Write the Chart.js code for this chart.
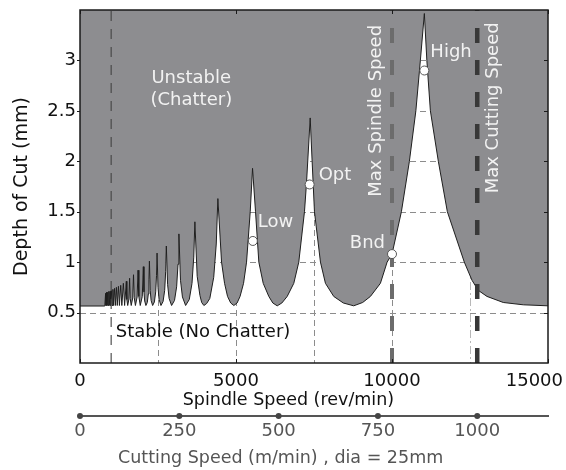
<!DOCTYPE html>
<html><head><meta charset="utf-8">
<script src="https://cdn.jsdelivr.net/npm/chart.js@4.4.1/dist/chart.umd.min.js"></script>
<style>html,body{margin:0;padding:0;background:#fff;}canvas{display:block;}</style>
</head><body>
<canvas id="c" width="566" height="470"></canvas>
<script>
// ---- data ----
const lobeRpm = [0,795,820,833,851,865,885,900,922,939,962,980,1006,1027,1055,1077,1108,1133,1167,1194,1232,1263,1305,1341,1390,1430,
  1485,1501,1529,1569,1590,1609,1642,1690,1715,1737,1776,1831,1860,1886,1931,1996,
  2030,2050,2073,2112,2157,2190,2211,2225,2250,2279,2328,2384,2426,2453,
  2470,2500,2535,2595,2663,2714,2746,2767,2807,2856,2936,3029,3097,3142,
  3170,3221,3283,3385,3503,3590,3646,3682,3756,3844,3900,3970,4060,4161,4286,4367,
  4419,4537,4633,4729,4830,4931,5035,5130,5242,5338,5456,
  5530,5626,5732,5872,6052,6180,6321,6470,6641,6852,7012,7195,7259,
  7378,7440,7515,7707,7867,8133,8440,8773,9060,9308,9628,9843,10000,10301,10557,10765,10909,
  11037,11117,11230,11485,11774,12318,12565,12766,13045,13567,14207,15000];
const lobeDepth = [0.565,0.565,0.69,0.57,0.70,0.57,0.70,0.57,0.71,0.57,0.71,0.57,0.72,0.57,0.73,0.57,0.74,0.57,0.75,0.57,0.76,0.57,0.77,0.57,0.79,0.57,
  0.81,0.63,0.57,0.635,0.84,0.64,0.57,0.645,0.875,0.65,0.57,0.655,0.92,0.66,0.57,0.66,
  0.955,0.705,0.615,0.57,0.60,0.685,0.825,1.01,0.72,0.62,0.57,0.605,0.705,0.87,
  1.09,0.75,0.63,0.57,0.61,0.72,0.91,1.16,0.78,0.64,0.57,0.62,0.755,0.98,
  1.28,0.82,0.655,0.57,0.63,0.79,1.05,1.40,0.86,0.67,0.60,0.57,0.59,0.64,0.85,1.18,
  1.63,1.00,0.79,0.66,0.595,0.57,0.595,0.66,0.79,1.00,1.50,
  1.93,1.50,1.00,0.79,0.66,0.595,0.567,0.595,0.66,0.79,1.00,1.50,1.78,
  2.43,2.00,1.50,1.00,0.79,0.66,0.595,0.567,0.60,0.66,0.79,1.00,1.08,1.50,2.00,2.50,3.00,
  3.465,3.00,2.50,2.00,1.50,1.00,0.82,0.72,0.66,0.60,0.577,0.567];
const markerNames = ['Low', 'Opt', 'Bnd', 'High'];
const markerRpm = [5540, 7360, 10000, 11037];
const markerDepth = [1.21, 1.77, 1.08, 2.90];
const minSpindleRpm = 1000;
const maxSpindleRpm = 10000;
const maxCuttingRpm = 12732;      // 1000 m/min at dia 25 mm
const spindleTicks = [0, 5000, 10000, 15000];
const depthTicks = [0.5, 1, 1.5, 2, 2.5, 3];
const gridRpm = [2500, 5000, 7500, 10000];
const dashDotRpm = [12500];
const cuttingTicks = [0, 250, 500, 750, 1000];
const cuttingMax = 1178.1;        // cutting speed at 15000 rev/min
const depthMax = 3.5;

const FONT = '"DejaVu Sans"';
Chart.defaults.font.family = FONT;
Chart.defaults.font.size = 18;
Chart.defaults.color = '#111';

function seg(ctx, x1, y1, x2, y2) { ctx.beginPath(); ctx.moveTo(x1, y1); ctx.lineTo(x2, y2); ctx.stroke(); }

const decor = {
  id: 'decor',
  beforeDatasetsDraw(chart) {
    const { ctx, chartArea: a } = chart;
    const x = chart.scales.x, y = chart.scales.y;
    ctx.save();
    ctx.lineWidth = 1;
    ctx.strokeStyle = '#8c8c8c';
    ctx.setLineDash([6, 4]);
    depthTicks.forEach(v => { const py = Math.round(y.getPixelForValue(v)) + 0.5; seg(ctx, a.left, py, a.right, py); });
    gridRpm.forEach(v => { const px = Math.round(x.getPixelForValue(v)) + 0.5; seg(ctx, px, a.top, px, a.bottom); });
    ctx.strokeStyle = '#b8b8b8';
    ctx.setLineDash([8, 3, 2, 3]);
    dashDotRpm.forEach(v => { const px = Math.round(x.getPixelForValue(v)) + 0.5; seg(ctx, px, a.top, px, a.bottom); });
    ctx.restore();
  },
  afterDatasetsDraw(chart) {
    const { ctx, chartArea: a } = chart;
    const x = chart.scales.x, y = chart.scales.y;
    ctx.save();
    ctx.font = '18px ' + FONT;
    ctx.textBaseline = 'middle';
    ctx.textAlign = 'left';
    ctx.fillStyle = '#f2f2f2';
    ctx.fillText('Unstable', x.getPixelForValue(2290), y.getPixelForValue(2.82));
    ctx.fillText('(Chatter)', x.getPixelForValue(2260), y.getPixelForValue(2.60));
    ctx.fillStyle = '#111';
    ctx.fillText('Stable (No Chatter)', x.getPixelForValue(1146), y.getPixelForValue(0.30));
    // rotated labels of the limit lines
    ctx.fillStyle = '#f2f2f2';
    [['Max Spindle Speed', maxSpindleRpm, -16, 2.5], ['Max Cutting Speed', maxCuttingRpm, 16, 2.53]].forEach(([t, v, dx, d]) => {
      ctx.save();
      ctx.translate(x.getPixelForValue(v) + dx, y.getPixelForValue(d));
      ctx.rotate(-Math.PI / 2);
      ctx.textAlign = 'center';
      ctx.fillText(t, 0, 0);
      ctx.restore();
    });
    // marker labels
    const offs = { Low: [5, -19, 'left'], Opt: [9, -9, 'left'], Bnd: [-7, -11, 'right'], High: [6, -18, 'left'] };
    markerNames.forEach((n, i) => {
      const o = offs[n];
      ctx.textAlign = o[2];
      ctx.fillText(n, x.getPixelForValue(markerRpm[i]) + o[0], y.getPixelForValue(markerDepth[i]) + o[1]);
    });
    // frame and ticks
    ctx.setLineDash([]);
    ctx.strokeStyle = '#1a1a1a';
    ctx.lineWidth = 1.5;
    ctx.strokeRect(a.left, a.top, a.width, a.height);
    ctx.lineWidth = 1;
    depthTicks.forEach(v => {
      const py = Math.round(y.getPixelForValue(v)) + 0.5;
      seg(ctx, a.left - 3, py, a.left, py);
      seg(ctx, a.right - 4, py, a.right, py);
    });
    spindleTicks.forEach(v => {
      const px = Math.round(x.getPixelForValue(v)) + 0.5;
      seg(ctx, px, a.top, px, a.top + 4);
      seg(ctx, px, a.bottom - 4, px, a.bottom);
    });
    ctx.restore();
  },
  afterDraw(chart) {
    const { ctx, chartArea: a } = chart;
    const x = chart.scales.x, x2 = chart.scales.x2;
    ctx.save();
    ctx.font = '18px ' + FONT;
    ctx.textBaseline = 'middle';
    ctx.textAlign = 'center';
    ctx.fillStyle = '#111';
    spindleTicks.forEach(v => {
      const t = String(v);
      const w = ctx.measureText(t).width;
      const cx = Math.min(x.getPixelForValue(v), chart.width - 3 - w / 2);
      ctx.fillText(t, cx, a.bottom + 18);
    });
    ctx.font = '17.5px ' + FONT;
    ctx.fillText('Spindle Speed (rev/min)', x.getPixelForValue(6680), a.bottom + 37);
    ctx.fillStyle = '#555';
    ctx.fillText('Cutting Speed (m/min) , dia = 25mm', x.getPixelForValue(6430), x2.top + 42);
    ctx.fillStyle = '#444';
    cuttingTicks.forEach(v => {
      ctx.beginPath();
      ctx.arc(x2.getPixelForValue(v), x2.top, 3, 0, Math.PI * 2);
      ctx.fill();
    });
    ctx.restore();
  }
};

const lobePts = lobeRpm.map((r, i) => ({ x: r, y: lobeDepth[i] }));
const vline = v => [{ x: v, y: 0 }, { x: v, y: depthMax }];

new Chart(document.getElementById('c'), {
  type: 'line',
  data: {
    datasets: [
      { data: lobePts, borderColor: '#1e1e1e', borderWidth: 1, backgroundColor: '#8d8d90', fill: 'end', pointRadius: 0, tension: 0, order: 5, xAxisID: 'x', yAxisID: 'y' },
      { data: vline(minSpindleRpm), borderColor: 'rgba(70,70,70,0.75)', borderWidth: 1.5, borderDash: [10, 8], pointRadius: 0, fill: false, order: 3, xAxisID: 'x', yAxisID: 'y' },
      { data: vline(maxSpindleRpm), borderColor: '#6c6c6c', borderWidth: 4, borderDash: [15, 17], pointRadius: 0, fill: false, order: 2, xAxisID: 'x', yAxisID: 'y' },
      { data: vline(maxCuttingRpm), borderColor: '#383838', borderWidth: 4.5, borderDash: [15, 17], pointRadius: 0, fill: false, order: 2, xAxisID: 'x', yAxisID: 'y' },
      { data: markerRpm.map((r, i) => ({ x: r, y: markerDepth[i] })), showLine: false, pointRadius: 4.5, pointBackgroundColor: '#ffffff', pointBorderColor: '#555', pointBorderWidth: 1, order: 0, xAxisID: 'x', yAxisID: 'y' }
    ]
  },
  options: {
    responsive: false,
    animation: false,
    layout: { padding: { top: 10, right: 18, left: 0, bottom: 0 } },
    plugins: { legend: { display: false }, tooltip: { enabled: false } },
    scales: {
      x: {
        type: 'linear', position: 'bottom', weight: 0, min: 0, max: 15000,
        grid: { display: false, drawTicks: false }, border: { display: false },
        ticks: { display: false },
        afterFit: s => { s.height = 53; s.paddingLeft = 0; s.paddingRight = 0; }
      },
      x2: {
        type: 'linear', position: 'bottom', weight: 1, min: 0, max: cuttingMax,
        grid: { display: false, drawTicks: false }, border: { display: true, color: '#555', width: 2 },
        ticks: { padding: 5, color: '#555', font: { size: 18 }, callback: v => String(v) },
        afterBuildTicks: s => { s.ticks = cuttingTicks.map(v => ({ value: v })); },
        afterFit: s => { s.height = 54; s.paddingLeft = 0; s.paddingRight = 0; }
      },
      y: {
        type: 'linear', position: 'left', min: 0, max: depthMax,
        grid: { display: false, drawTicks: false }, border: { display: false },
        ticks: { padding: 4, color: '#111', font: { size: 18 }, callback: v => String(v) },
        afterBuildTicks: s => { s.ticks = depthTicks.map(v => ({ value: v })); },
        title: { display: true, text: 'Depth of Cut (mm)', color: '#111', font: { size: 19 }, padding: { top: 10.5, bottom: 0 } },
        afterFit: s => { s.width = 80; s.paddingTop = 0; s.paddingBottom = 0; }
      }
    }
  },
  plugins: [decor]
});
</script>
</body></html>
